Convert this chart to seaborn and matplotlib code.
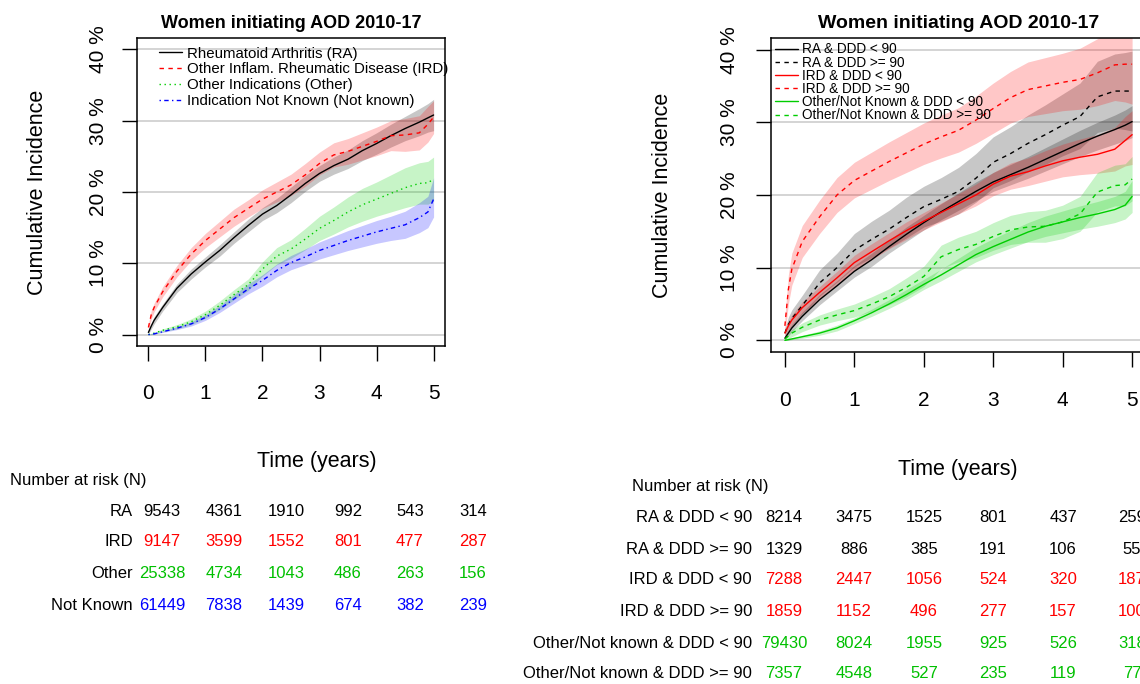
import matplotlib
matplotlib.use("Agg")
import matplotlib.pyplot as plt
import seaborn as sns
import numpy as np

# ---------------- data ----------------
T = [0, 0.05, 0.1, 0.25, 0.5, 0.75, 1.0, 1.25, 1.5, 1.75, 2.0, 2.25, 2.5, 2.75,
     3.0, 3.25, 3.5, 3.75, 4.0, 4.25, 4.5, 4.75, 4.9, 5.0]

# Left panel: by indication
ra_est = [0.3, 1.2, 2.0, 3.8, 6.5, 8.5, 10.2, 11.8, 13.6, 15.3, 16.9, 18.1, 19.6, 21.2, 22.6, 23.7, 24.6, 25.8, 26.8, 27.9, 28.9, 29.8, 30.4, 30.8]
ra_lo  = [0.1, 0.8, 1.5, 3.3, 5.9, 7.8, 9.5, 11.0, 12.8, 14.4, 16.0, 17.1, 18.5, 20.1, 21.5, 22.5, 23.3, 24.4, 25.3, 26.3, 27.2, 27.9, 28.4, 28.6]
ra_hi  = [0.5, 1.6, 2.5, 4.3, 7.1, 9.2, 10.9, 12.6, 14.4, 16.2, 17.8, 19.1, 20.7, 22.3, 23.7, 24.9, 25.9, 27.2, 28.3, 29.5, 30.6, 31.7, 32.4, 33.0]

ird_est = [1.0, 2.8, 3.8, 6.0, 8.9, 11.3, 13.2, 14.8, 16.4, 17.7, 19.0, 20.0, 21.0, 22.4, 24.0, 25.2, 25.7, 26.4, 27.1, 27.9, 28.0, 28.3, 29.5, 30.5]
ird_lo  = [0.5, 2.2, 3.2, 5.3, 8.1, 10.4, 12.2, 13.7, 15.2, 16.5, 17.7, 18.6, 19.5, 20.8, 22.4, 23.5, 23.9, 24.5, 25.1, 25.8, 25.7, 25.9, 27.0, 28.2]
ird_hi  = [1.5, 3.4, 4.4, 6.7, 9.7, 12.2, 14.2, 15.9, 17.6, 18.9, 20.3, 21.4, 22.5, 24.0, 25.6, 26.9, 27.5, 28.3, 29.1, 30.0, 30.3, 30.7, 32.0, 32.8]

oth_est = [0.0, 0.1, 0.2, 0.6, 1.1, 1.8, 2.8, 4.1, 5.6, 7.0, 9.2, 11.0, 12.0, 13.4, 14.9, 16.0, 17.2, 18.2, 19.0, 19.8, 20.6, 21.2, 21.3, 21.8]
oth_lo  = [0.0, 0.0, 0.1, 0.4, 0.8, 1.4, 2.3, 3.5, 4.9, 6.2, 8.2, 9.8, 10.7, 11.9, 13.2, 14.1, 15.1, 15.9, 16.6, 17.2, 17.8, 18.3, 18.3, 18.7]
oth_hi  = [0.0, 0.2, 0.3, 0.8, 1.4, 2.2, 3.3, 4.7, 6.3, 7.8, 10.2, 12.2, 13.3, 14.9, 16.6, 17.9, 19.3, 20.5, 21.4, 22.4, 23.4, 24.1, 24.3, 24.9]

nk_est = [0.0, 0.05, 0.1, 0.4, 0.9, 1.5, 2.4, 3.6, 5.0, 6.4, 7.6, 9.0, 10.1, 10.9, 11.8, 12.5, 13.2, 13.8, 14.4, 14.9, 15.4, 16.4, 17.2, 19.0]
nk_lo  = [0.0, 0.0, 0.05, 0.3, 0.7, 1.2, 2.0, 3.1, 4.4, 5.7, 6.8, 8.1, 9.1, 9.8, 10.6, 11.2, 11.8, 12.3, 12.8, 13.2, 13.5, 14.3, 15.0, 16.5]
nk_hi  = [0.0, 0.1, 0.15, 0.5, 1.1, 1.8, 2.8, 4.1, 5.6, 7.1, 8.4, 9.9, 11.1, 12.0, 13.0, 13.8, 14.6, 15.3, 16.0, 16.6, 17.3, 18.5, 19.4, 22.0]

left_labels = ["Rheumatoid Arthritis (RA)", "Other Inflam. Rheumatic Disease (IRD)",
               "Other Indications (Other)", "Indication Not Known (Not known)"]

# Right panel: by indication and dose
ra_lt_est = [0.3, 1.0, 1.7, 3.3, 5.6, 7.5, 9.5, 11.1, 12.9, 14.6, 16.2, 17.7, 19.1, 20.5, 21.8, 22.8, 23.8, 24.9, 26.0, 27.1, 28.1, 29.0, 29.6, 30.1]
ra_lt_lo  = [0.1, 0.6, 1.2, 2.7, 4.9, 6.8, 8.7, 10.2, 12.0, 13.6, 15.2, 16.6, 17.9, 19.2, 20.5, 21.4, 22.3, 23.3, 24.3, 25.3, 26.2, 27.0, 27.5, 27.9]
ra_lt_hi  = [0.5, 1.4, 2.2, 3.9, 6.3, 8.2, 10.3, 12.0, 13.8, 15.6, 17.2, 18.8, 20.3, 21.8, 23.1, 24.2, 25.3, 26.5, 27.7, 28.9, 30.0, 31.0, 31.7, 32.3]

ra_ge_est = [1.0, 2.2, 3.0, 4.8, 7.9, 10.0, 12.4, 13.9, 15.3, 16.9, 18.4, 19.4, 20.5, 22.3, 24.5, 25.7, 27.1, 28.3, 29.6, 30.8, 33.5, 34.3, 34.3, 34.3]
ra_ge_lo  = [0.4, 1.2, 1.8, 3.4, 6.1, 8.0, 10.1, 11.4, 12.7, 14.1, 15.6, 16.4, 17.4, 19.0, 21.0, 22.0, 23.2, 24.2, 25.4, 26.4, 28.6, 29.2, 29.0, 28.8]
ra_ge_hi  = [1.6, 3.2, 4.2, 6.2, 9.7, 12.0, 14.7, 16.4, 17.9, 19.7, 21.2, 22.4, 23.8, 25.7, 28.0, 29.4, 31.0, 32.4, 33.9, 35.4, 38.4, 39.4, 39.6, 39.8]

ird_lt_est = [1.0, 2.0, 2.8, 4.5, 6.6, 8.6, 10.7, 12.2, 13.7, 15.1, 16.4, 17.6, 18.8, 20.0, 21.5, 22.6, 23.2, 24.0, 24.7, 25.2, 25.6, 26.3, 27.5, 28.3]
ird_lt_lo  = [0.5, 1.4, 2.1, 3.7, 5.8, 7.7, 9.7, 11.1, 12.6, 13.9, 15.2, 16.3, 17.4, 18.5, 19.9, 20.8, 21.3, 21.9, 22.5, 22.8, 23.0, 23.3, 24.0, 24.2]
ird_lt_hi  = [1.5, 2.6, 3.5, 5.3, 7.4, 9.5, 11.7, 13.3, 14.8, 16.3, 17.6, 18.9, 20.2, 21.5, 23.1, 24.4, 25.1, 26.1, 27.0, 27.7, 28.3, 29.3, 30.8, 31.6]

ird_ge_est = [2.0, 7.0, 9.8, 13.6, 17.0, 20.0, 22.0, 23.3, 24.6, 25.8, 27.0, 28.0, 28.9, 30.3, 31.9, 33.4, 34.5, 35.0, 35.5, 35.9, 36.8, 37.9, 38.0, 38.0]
ird_ge_lo  = [0.8, 5.0, 7.6, 11.4, 14.7, 17.6, 19.6, 20.8, 22.0, 23.1, 24.2, 25.1, 25.9, 27.1, 28.5, 29.9, 30.8, 31.2, 31.6, 31.8, 32.3, 33.0, 32.8, 32.5]
ird_ge_hi  = [3.2, 9.0, 12.0, 15.8, 19.3, 22.4, 24.5, 25.9, 27.3, 28.6, 29.9, 31.0, 32.0, 33.6, 35.4, 37.0, 38.3, 38.9, 39.5, 40.2, 41.5, 42.9, 43.3, 43.6]

on_lt_est = [0.0, 0.1, 0.2, 0.5, 1.0, 1.7, 2.7, 3.8, 5.0, 6.3, 7.7, 9.0, 10.4, 11.8, 12.9, 13.9, 14.9, 15.7, 16.3, 16.9, 17.4, 18.0, 18.6, 19.8]
on_lt_lo  = [0.0, 0.0, 0.1, 0.3, 0.7, 1.3, 2.3, 3.3, 4.4, 5.6, 7.0, 8.2, 9.5, 10.8, 11.8, 12.7, 13.6, 14.3, 14.8, 15.3, 15.7, 16.2, 16.7, 17.6]
on_lt_hi  = [0.0, 0.2, 0.3, 0.7, 1.3, 2.1, 3.1, 4.3, 5.6, 7.0, 8.4, 9.8, 11.3, 12.8, 14.0, 15.1, 16.2, 17.1, 17.8, 18.5, 19.1, 19.8, 20.5, 22.0]

on_ge_est = [0.2, 0.6, 1.0, 1.8, 2.8, 3.5, 4.1, 5.0, 6.0, 7.3, 8.8, 11.5, 12.5, 13.2, 14.3, 15.2, 15.6, 15.7, 16.3, 17.4, 20.4, 21.3, 21.4, 22.2]
on_ge_lo  = [0.0, 0.2, 0.5, 1.2, 2.1, 2.7, 3.2, 4.0, 4.9, 6.0, 7.4, 9.9, 10.8, 11.4, 12.4, 13.2, 13.5, 13.5, 14.0, 15.0, 17.7, 18.5, 18.5, 19.2]
on_ge_hi  = [0.4, 1.0, 1.5, 2.4, 3.5, 4.3, 5.0, 6.0, 7.1, 8.6, 10.2, 13.1, 14.2, 15.0, 16.2, 17.2, 17.7, 17.9, 18.6, 19.8, 23.1, 24.1, 24.3, 25.3]

right_labels = ["RA & DDD < 90", "RA & DDD >= 90", "IRD & DDD < 90", "IRD & DDD >= 90",
                "Other/Not Known & DDD < 90", "Other/Not Known & DDD >= 90"]

# Risk tables
risk_times = [0, 1, 2, 3, 4, 5]
left_risk_rows = ["RA", "IRD", "Other", "Not Known"]
left_risk = [[9543, 4361, 1910, 992, 543, 314],
             [9147, 3599, 1552, 801, 477, 287],
             [25338, 4734, 1043, 486, 263, 156],
             [61449, 7838, 1439, 674, 382, 239]]
right_risk_rows = ["RA & DDD < 90", "RA & DDD >= 90", "IRD & DDD < 90", "IRD & DDD >= 90",
                   "Other/Not known & DDD < 90", "Other/Not known & DDD >= 90"]
right_risk = [[8214, 3475, 1525, 801, 437, 259],
              [1329, 886, 385, 191, 106, 55],
              [7288, 2447, 1056, 524, 320, 187],
              [1859, 1152, 496, 277, 157, 100],
              [79430, 8024, 1955, 925, 526, 318],
              [7357, 4548, 527, 235, 119, 77]]

y_ticks = [0, 10, 20, 30, 40]
y_ticklabels = ["0 %", "10 %", "20 %", "30 %", "40 %"]
x_ticks = [0, 1, 2, 3, 4, 5]
title = "Women initiating AOD 2010-17"

# ---------------- style ----------------
sns.set_theme(style="white")
plt.rcParams["font.family"] = ["Liberation Sans", "DejaVu Sans"]
plt.rcParams["text.color"] = "black"
plt.rcParams["axes.labelcolor"] = "black"
plt.rcParams["xtick.color"] = "black"
plt.rcParams["ytick.color"] = "black"
plt.rcParams["axes.titlecolor"] = "black"

BLACK, RED, GREEN, BLUE = "#000000", "#FF0000", "#00CD00", "#0000FF"
TBL_GREEN = "#00C000"
DASH = (0, (3.2, 3.2))
DOT = (0, (1, 2.6))
DASHDOT = (0, (1, 2.4, 3.2, 2.4))

W, H = 1140, 684
fig = plt.figure(figsize=(W / 100, H / 100), dpi=100)


def fx(px):
    return px / W


def fy(py):
    return 1 - py / H


axL = fig.add_axes([fx(137), fy(346), 308 / W, 308 / H])
axR = fig.add_axes([fx(771), fy(352), 375 / W, 314 / H])


def style_axes(ax, ylab_pad, xlab_pad, title_size):
    ax.set_xlim(-0.2, 5.2)
    ax.set_ylim(-1.6, 41.6)
    for yv in y_ticks:
        ax.axhline(yv, color="#d4d4d4", lw=1.4, zorder=0)
    ax.set_yticks(y_ticks)
    ax.set_yticklabels(y_ticklabels, rotation=90, va="center")
    ax.set_xticks(x_ticks)
    ax.set_xticklabels([str(v) for v in x_ticks])
    ax.tick_params(axis="both", which="major", direction="out", length=11, width=1.0,
                   color="black", labelcolor="black", labelsize=15, left=True, bottom=True)
    ax.tick_params(axis="y", pad=ylab_pad)
    ax.tick_params(axis="x", pad=xlab_pad)
    for s in ax.spines.values():
        s.set_color("black")
        s.set_linewidth(1.1)
    ax.set_title(title, fontsize=title_size, fontweight="bold", pad=7, color="black")


def band_line(ax, est, lo, hi, color, ls, label):
    ax.fill_between(T, lo, hi, color=color, alpha=0.22, lw=0, zorder=1)
    sns.lineplot(x=T, y=est, ax=ax, color=color, linestyle=ls, lw=1.0,
                 estimator=None, errorbar=None, label=label, zorder=3)


# ---------------- left panel ----------------
band_line(axL, ra_est, ra_lo, ra_hi, BLACK, "-", left_labels[0])
band_line(axL, ird_est, ird_lo, ird_hi, RED, DASH, left_labels[1])
band_line(axL, oth_est, oth_lo, oth_hi, GREEN, DOT, left_labels[2])
band_line(axL, nk_est, nk_lo, nk_hi, BLUE, DASHDOT, left_labels[3])
style_axes(axL, ylab_pad=10, xlab_pad=16, title_size=13)
h, l = axL.get_legend_handles_labels()
axL.legend(h, l, loc="upper left", bbox_to_anchor=(0.072, 0.972), frameon=False,
           fontsize=10.8, handlelength=1.55, handletextpad=0.3, labelspacing=0.12,
           borderpad=0, borderaxespad=0, labelcolor="black")
axL.set_xlabel("Time (years)", fontsize=15.5, color="black")
axL.xaxis.set_label_coords((317 - 137) / 308, (346 - 461) / 308)
axL.xaxis.label.set_va("center")
axL.set_ylabel("Cumulative Incidence", fontsize=15.5, color="black")
axL.yaxis.set_label_coords((38 - 137) / 308, 0.5)
axL.yaxis.label.set_va("center")

# ---------------- right panel ----------------
band_line(axR, ra_lt_est, ra_lt_lo, ra_lt_hi, BLACK, "-", right_labels[0])
band_line(axR, ra_ge_est, ra_ge_lo, ra_ge_hi, BLACK, DASH, right_labels[1])
band_line(axR, ird_lt_est, ird_lt_lo, ird_lt_hi, RED, "-", right_labels[2])
band_line(axR, ird_ge_est, ird_ge_lo, ird_ge_hi, RED, DASH, right_labels[3])
band_line(axR, on_lt_est, on_lt_lo, on_lt_hi, GREEN, "-", right_labels[4])
band_line(axR, on_ge_est, on_ge_lo, on_ge_hi, GREEN, DASH, right_labels[5])
style_axes(axR, ylab_pad=12, xlab_pad=17, title_size=14)
h, l = axR.get_legend_handles_labels()
axR.legend(h, l, loc="upper left", bbox_to_anchor=(0.011, 0.986), frameon=False,
           fontsize=9.8, handlelength=1.7, handletextpad=0.25, labelspacing=-0.06,
           borderpad=0, borderaxespad=0, labelcolor="black")
axR.set_xlabel("Time (years)", fontsize=15.5, color="black")
axR.xaxis.set_label_coords((958 - 771) / 375, (352 - 469) / 314)
axR.xaxis.label.set_va("center")
axR.set_ylabel("Cumulative Incidence", fontsize=15.5, color="black")
axR.yaxis.set_label_coords((663 - 771) / 375, 0.5)
axR.yaxis.label.set_va("center")

# ---------------- risk tables ----------------
colors_left = [BLACK, RED, TBL_GREEN, BLUE]
fig.text(fx(10), fy(480), "Number at risk (N)", fontsize=12, ha="left", va="center")
left_cols = [162, 224, 286, 348, 410, 473]
left_rows_y = [511, 542, 573, 605]
for r, name in enumerate(left_risk_rows):
    fig.text(fx(133), fy(left_rows_y[r]), name, fontsize=12, ha="right", va="center")
    for c, val in enumerate(left_risk[r]):
        fig.text(fx(left_cols[c]), fy(left_rows_y[r]), str(val), fontsize=12,
                 ha="center", va="center", color=colors_left[r])

colors_right = [BLACK, BLACK, RED, RED, TBL_GREEN, TBL_GREEN]
fig.text(fx(632), fy(487), "Number at risk (N)", fontsize=12, ha="left", va="center")
right_cols = [784, 854, 924, 993, 1063, 1132]
right_rows_y = [518, 549, 580, 612, 643, 674]
for r, name in enumerate(right_risk_rows):
    fig.text(fx(752), fy(right_rows_y[r]), name, fontsize=12, ha="right", va="center")
    for c, val in enumerate(right_risk[r]):
        fig.text(fx(right_cols[c]), fy(right_rows_y[r]), str(val), fontsize=12,
                 ha="center", va="center", color=colors_right[r])

fig.savefig("out.png", dpi=100)
